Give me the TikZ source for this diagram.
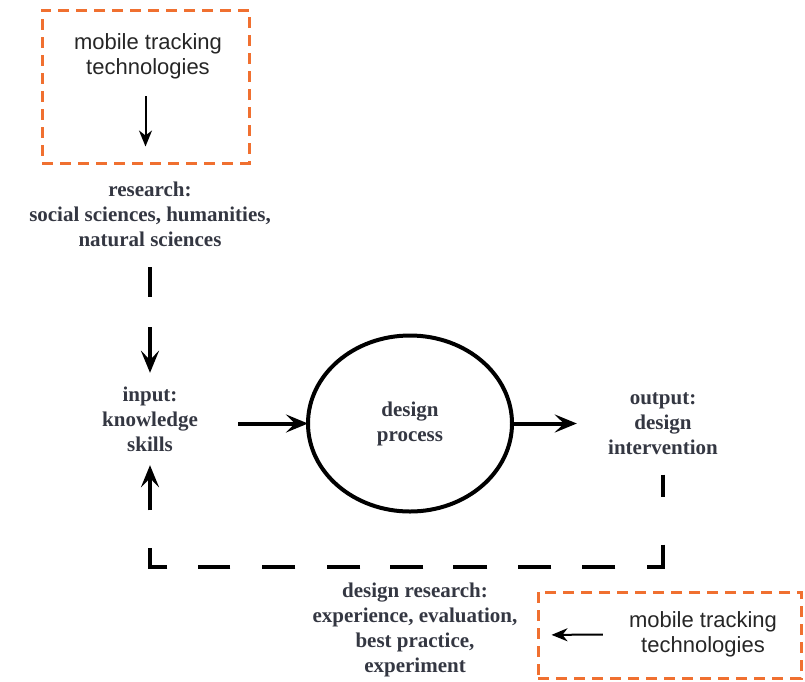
\documentclass[tikz,border=0pt]{standalone}
\usepackage{fontspec}
\setmainfont{Liberation Serif}
\newfontfamily\trackfont{Liberation Sans}
\usetikzlibrary{arrows.meta,shapes.geometric}

\definecolor{trackorange}{RGB}{240,112,48}
\definecolor{labelgray}{RGB}{52,55,66}

\tikzset{
  label text/.style={align=center, text=labelgray, inner sep=0pt,
    font=\fontsize{21}{25}\selectfont\bfseries},
  track text/.style={align=center, text=black!85, inner sep=0pt,
    font=\trackfont\fontsize{22}{25}\selectfont},
  track box/.style={draw=trackorange, line width=3pt, dash pattern=on 11pt off 7pt,
    inner sep=0pt},
  flow/.style={line width=4pt, -{Stealth[length=22pt,width=18pt,inset=9pt]}},
  track arrow/.style={line width=2pt, -{Stealth[length=16pt,width=13pt,inset=5pt]}},
}

\begin{document}
\begin{tikzpicture}[x=1pt, y=-1pt, line join=miter]
  \useasboundingbox (0,0) rectangle (805,681);

  % orange boxes
  \node[track box, minimum width=207pt, minimum height=153pt] (box1) at (145.5,86.5) {};
  \node[track box, minimum width=263pt, minimum height=86pt] (box2) at (669.5,635) {};
  \node[track text, minimum height=80pt] (mob1) at (148,56) {mobile tracking\\technologies};
  \node[track text, minimum width=200pt] (mob2) at (703,634.5) {mobile tracking\\technologies};

  % labels
  \node[label text, minimum height=106pt] (research) at (150,214)
    {research:\\social sciences, humanities,\\natural sciences};
  \node[label text, minimum width=176pt, minimum height=92pt] (in) at (150,419)
    {input:\\knowledge\\skills};
  \node[draw, ellipse, line width=4pt, outer sep=0pt, minimum width=204pt,
    minimum height=176pt, label text] (proc) at (410,423.5) {design\\process};
  \node[label text, minimum width=172pt, minimum height=102pt] (out) at (663,423.5)
    {output:\\design\\intervention};
  \node[label text] (dres) at (415,630)
    {design research:\\experience, evaluation,\\best practice,\\experiment};
  \coordinate (loop) at (0,567);

  % connectors
  \draw[track arrow, shorten >=18pt] (mob1.south -| box1.south) -- (box1.south);
  \draw[track arrow, shorten >=15pt] (mob2.west) -- (box2.west);
  \draw[flow, dash pattern=on 30pt off 30pt on 60pt] (research.south) -- (in.north);
  \draw[flow] (in.east |- proc.west) -- (proc.west);
  \draw[flow] (proc.east) -- (out.west);
  \draw[flow, dash pattern=on 22pt off 48pt on 38pt off 32pt on 33pt off 31pt on 33pt off 31pt
    on 34pt off 30pt on 33pt off 30pt on 33pt off 32pt on 33pt off 32pt on 32pt off 31pt
    on 36pt off 38pt on 80pt]
    (out.south) -- (out.south |- loop) -| (in.south);
\end{tikzpicture}
\end{document}
